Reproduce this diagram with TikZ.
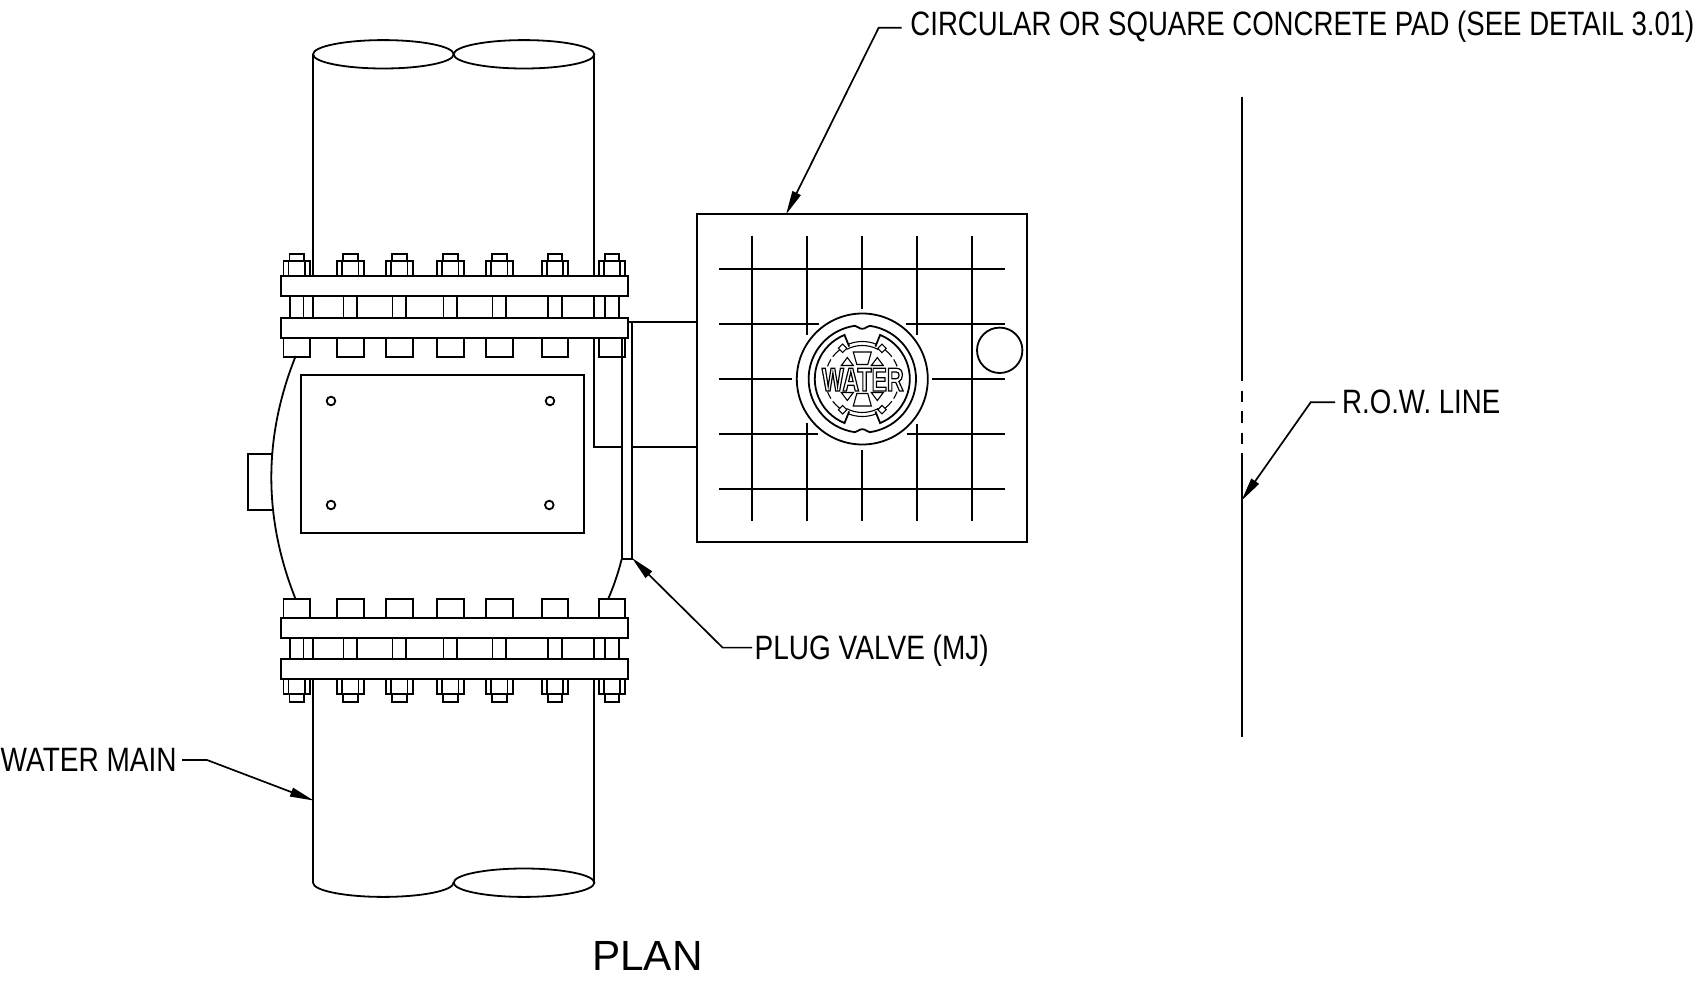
\documentclass[tikz,border=0pt]{standalone}
\usepackage{graphicx}
\usepackage{fontspec}
\setmainfont{Liberation Sans}
\newfontfamily\hubfont[FakeStretch=0.7]{Liberation Sans Bold}
\usetikzlibrary{arrows.meta}
\tikzset{
  ln/.style={line width=1.8pt,line cap=butt,line join=miter},
  thinln/.style={line width=1.1pt},
  lead/.style={line width=1.7pt,-{Triangle[length=24pt,width=9pt]}},
  lbl/.style={anchor=base west,inner sep=0pt,font=\fontsize{33.8}{36}\selectfont},
}
\newcommand{\boltstack}[1]{%
  \begin{scope}[shift={(#1,0)}]
    % upper group
    \draw[ln] (-7.3,260.7) -- (-7.3,254) -- (7.3,254) -- (7.3,260.7);
    \draw[ln] (-13.3,276) -- (-13.3,260.7) -- (13.3,260.7) -- (13.3,276);
    \draw[ln] (-8.2,260.7) -- (-8.2,276) (8.2,260.7) -- (8.2,276);
    \draw[ln] (-6.8,296) -- (-6.8,318.3) (6.8,296) -- (6.8,318.3);
    \draw[ln] (-13.3,338) -- (-13.3,356.7) -- (13.3,356.7) -- (13.3,338);
    % lower group
    \draw[ln] (-13.3,617.7) -- (-13.3,599.3) -- (13.3,599.3) -- (13.3,617.7);
    \draw[ln] (-6.8,637.7) -- (-6.8,659.3) (6.8,637.7) -- (6.8,659.3);
    \draw[ln] (-13.3,679.3) -- (-13.3,694.3) -- (13.3,694.3) -- (13.3,679.3);
    \draw[ln] (-8.2,679.3) -- (-8.2,694.3) (8.2,679.3) -- (8.2,694.3);
    \draw[ln] (-7.3,694.3) -- (-7.3,701.7) -- (7.3,701.7) -- (7.3,694.3);
  \end{scope}}
\begin{document}
\begin{tikzpicture}[x=1pt,y=-1pt]
\useasboundingbox (0,0) rectangle (1704,984);

% pipe
\draw[ln] (383.35,54.3) ellipse [x radius=70.3,y radius=14.2];
\draw[ln] (524,54.3) ellipse [x radius=70.3,y radius=14.2];
\draw[ln] (313,54.3) -- (313,276) (594.3,54.3) -- (594.3,276);
\draw[ln] (313,296) -- (313,318.3) (594.3,296) -- (594.3,318.3);
\draw[ln] (313,637.7) -- (313,659.3) (594.3,637.7) -- (594.3,659.3);
\draw[ln] (313,679.3) -- (313,882.7) (594.3,679.3) -- (594.3,882.7);
\draw[ln] (313,882.7) arc [start angle=180,end angle=0,x radius=70.3,y radius=14.2];
\draw[ln] (524,882.7) ellipse [x radius=70.3,y radius=14.2];

% flanges
\draw[ln] (280.7,276) rectangle (628,296);
\draw[ln] (280.7,318.3) rectangle (628,338);
\draw[ln] (280.7,617.7) rectangle (628,637.7);
\draw[ln] (280.7,659.3) rectangle (628,679.3);

% bolts
\foreach \cx in {296.7,350.3,399.3,450.3,499.3,555,612} {\boltstack{\cx}}

% valve body
\draw[ln] (295.7,356) .. controls (263.2,437) and (263.2,518) .. (295.7,599.3);
\draw[ln] (273,454.3) -- (248.3,454.3) -- (248.3,510.3) -- (273,510.3);
\draw[ln] (608,599.3) .. controls (613,588) and (618,574) .. (621.7,559);
\draw[ln] (301.3,375) rectangle (584.3,533);
\draw[ln] (331,401) circle [radius=4.3];
\draw[ln] (550,401) circle [radius=4.3];
\draw[ln] (331,505) circle [radius=4.3];
\draw[ln] (549.3,505) circle [radius=4.3];

% plug valve stem and neck
\draw[ln] (621.7,338) -- (621.7,559) -- (631.7,559) -- (631.7,321.7);
\draw[ln] (594.3,338) -- (594.3,446.7) -- (621.7,446.7);
\draw[ln] (628,321.7) -- (697.3,321.7);
\draw[ln] (631.7,446.7) -- (697.3,446.7);

% pad
\draw[ln] (697.3,214.3) rectangle (1027,542.3);

% reinforcing grid
\draw[ln] (719.3,269) -- (1005.3,269);
\draw[ln] (719.3,324) -- (819,324) (905.7,324) -- (1005.3,324);
\draw[ln] (719.3,378.7) -- (791.7,378.7) (932.3,378.7) -- (1005.3,378.7);
\draw[ln] (719.3,433.7) -- (817.7,433.7) (906.7,433.7) -- (1005.3,433.7);
\draw[ln] (719.3,488.7) -- (1005.3,488.7);
\draw[ln] (752.3,235.7) -- (752.3,521.3);
\draw[ln] (807.3,235.7) -- (807.3,335) (807.3,423.3) -- (807.3,521.3);
\draw[ln] (862.3,235.7) -- (862.3,309) (862.3,450) -- (862.3,521.3);
\draw[ln] (917.3,235.7) -- (917.3,335) (917.3,424) -- (917.3,521.3);
\draw[ln] (972.3,235.7) -- (972.3,521.3);
\draw[ln] (999.7,350.3) circle [radius=22.7];

% valve box cover
\begin{scope}[shift={(862.3,379)}]
  \draw[ln] (0,0) circle [radius=65.5];
  % ring with top and bottom notches
  \draw[ln] (-82:53.7) arc [start angle=-82,end angle=82,radius=53.7]
     .. controls (4,53) and (4,50.2) .. (0,50.2) .. controls (-4,50.2) and (-4,53) .. (98:53.7)
     arc [start angle=98,end angle=262,radius=53.7]
     .. controls (-4,-53) and (-4,-50.2) .. (0,-50.2) .. controls (4,-50.2) and (4,-53) .. (-82:53.7);
  % side segments
  \draw[ln] (112:35) -- (112:47.5) arc [start angle=112,end angle=248,radius=47.5] -- (248:35);
  \draw[ln] (68:35) -- (68:47.5) arc [start angle=68,end angle=-68,radius=47.5] -- (-68:35);
  % inner rings
  \draw[thinln] (112:37.5) arc [start angle=112,end angle=68,radius=37.5];
  \draw[thinln] (118:33.5) arc [start angle=118,end angle=62,radius=33.5];
  \draw[thinln] (248:37.5) arc [start angle=248,end angle=292,radius=37.5];
  \draw[thinln] (242:33.5) arc [start angle=242,end angle=298,radius=33.5];
  % dashed arcs beside the lugs
  \foreach \a/\b in {128/143,148/160,200/212,217/232,37/52,20/32,-52/-37,-32/-20} {
    \draw[thinln] (\a:37) arc [start angle=\a,end angle=\b,radius=37];
  }
  % lugs
  \foreach \sx/\sy in {-1/-1,1/-1,-1/1,1/1} {
    \draw[thinln,shift={(\sx*19.7,\sy*30.7)},rotate=45] (-3,-3) rectangle (3,3);
    \draw[thinln] (\sx*9,\sy*13.5) -- (\sx*21,\sy*13.5) -- (\sx*15,\sy*21.5) -- cycle;
  }
  % spokes
  \draw[thinln] (-9,-27) -- (9,-27) -- (5.5,-14.5) -- (-5.5,-14.5) -- cycle;
  \draw[thinln] (-9,27) -- (9,27) -- (5.5,14.5) -- (-5.5,14.5) -- cycle;
\end{scope}
\node[anchor=base,inner sep=0pt,font=\hubfont\fontsize{33}{35}\selectfont] (hub) at (862.8,391)
  {\special{pdf:code 1 Tr 1.2 w}WATER\special{pdf:code 0 Tr}};

% right of way line
\draw[ln] (1241.7,96.7) -- (1241.7,380.7);
\draw[ln] (1241.7,390.7) -- (1241.7,402.3);
\draw[ln] (1241.7,411.3) -- (1241.7,423);
\draw[ln] (1241.7,432.7) -- (1241.7,444.3);
\draw[ln] (1241.7,453.3) -- (1241.7,737);

% labels
\node[lbl] (padlabel) at (910.2,36) {\resizebox{784pt}{\height}{CIRCULAR OR SQUARE CONCRETE PAD (SEE DETAIL 3.01)}};
\node[lbl] (rowlabel) at (1342,413.5) {\resizebox{158pt}{\height}{R.O.W. LINE}};
\node[lbl] (plugvalve) at (754.5,659) {\resizebox{234pt}{\height}{PLUG VALVE (MJ)}};
\node[lbl] (mainlabel) at (0.5,771.5) {\resizebox{176pt}{\height}{WATER MAIN}};
\node[anchor=base west,inner sep=0pt,font=\fontsize{42.2}{44}\selectfont] (plan) at (592,970.7) {\resizebox{110.5pt}{\height}{PLAN}};

% leaders
\coordinate (padA) at (901.7,27.7);
\coordinate (padB) at (878.7,27.7);
\coordinate (padtip) at (786,214.5);
\coordinate (rowA) at (1335,402.3);
\coordinate (rowB) at (1310.7,402.3);
\coordinate (rowtip) at (1241.4,500.8);
\coordinate (plugA) at (752,647.6);
\coordinate (plugB) at (722.6,647.6);
\coordinate (plugtip) at (631.8,557.8);
\coordinate (mainA) at (182,760);
\coordinate (mainB) at (207,760);
\coordinate (maintip) at (313.8,800.6);
\draw[lead] (padA) -- (padB) -- (padtip);
\draw[lead] (rowA) -- (rowB) -- (rowtip);
\draw[lead] (plugA) -- (plugB) -- (plugtip);
\draw[lead] (mainA) -- (mainB) -- (maintip);
\end{tikzpicture}
\end{document}
